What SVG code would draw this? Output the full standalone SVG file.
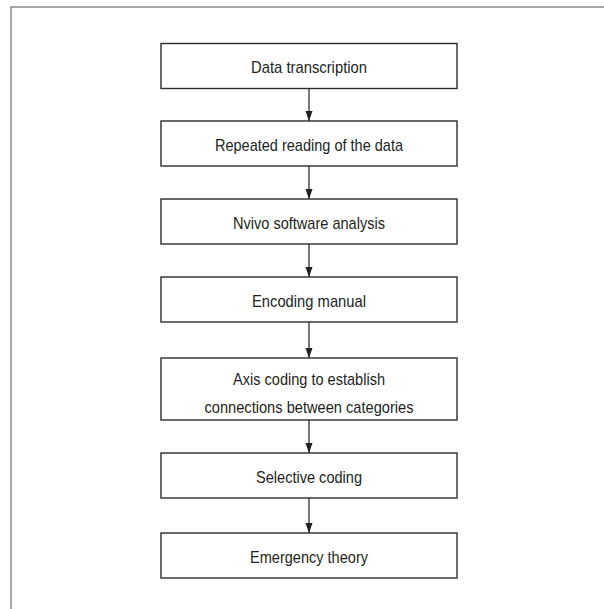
<svg xmlns="http://www.w3.org/2000/svg" width="604" height="609" viewBox="0 0 604 609">
<style>
.frame{fill:none;stroke:#8a8a8a;stroke-width:1.5}
.box{fill:#fff;stroke:#2b2b2b;stroke-width:1.4}
.lbl{font-family:"Liberation Sans",Arial,sans-serif;font-size:17px;fill:#231f20;text-anchor:middle}
.conn{stroke:#231f20;stroke-width:1.2;fill:none;marker-end:url(#ah)}
</style>
<defs>
<marker id="ah" markerUnits="userSpaceOnUse" markerWidth="8" markerHeight="11" refX="4" refY="10" orient="auto" viewBox="0 0 8 11">
<path d="M0.5,0 L7.5,0 L4,10 Z" fill="#231f20" transform="rotate(-90 4 5)"/>
</marker>
</defs>
<rect width="604" height="609" fill="#fff"/>
<path class="frame" d="M11,609 L11,7 L604,7"/>
<g id="connectors">
<path d="M309,88 V121 M309,166 V199 M309,244 V277 M309,322 V358 M309,420 V453 M309,498 V533" stroke="#231f20" stroke-width="1.2" fill="none"/>
<path d="M305.5,111 L312.5,111 L309,121 Z M305.5,189 L312.5,189 L309,199 Z M305.5,267 L312.5,267 L309,277 Z M305.5,348 L312.5,348 L309,358 Z M305.5,443 L312.5,443 L309,453 Z M305.5,523 L312.5,523 L309,533 Z" fill="#231f20"/>
</g>
<g id="n1"><rect class="box" x="161" y="43.5" width="296" height="45"/><text class="lbl" x="309" y="72.5" textLength="116" lengthAdjust="spacingAndGlyphs">Data transcription</text></g>
<g id="n2"><rect class="box" x="161" y="121" width="296" height="45"/><text class="lbl" x="309" y="150.5" textLength="188" lengthAdjust="spacingAndGlyphs">Repeated reading of the data</text></g>
<g id="n3"><rect class="box" x="161" y="199" width="296" height="45"/><text class="lbl" x="309" y="228.5" textLength="152" lengthAdjust="spacingAndGlyphs">Nvivo software analysis</text></g>
<g id="n4"><rect class="box" x="161" y="277" width="296" height="45"/><text class="lbl" x="309" y="306.5" textLength="114" lengthAdjust="spacingAndGlyphs">Encoding manual</text></g>
<g id="n5"><rect class="box" x="161" y="358" width="296" height="62"/><text class="lbl" x="309" y="385" textLength="152" lengthAdjust="spacingAndGlyphs">Axis coding to establish</text><text class="lbl" x="309" y="412.5" textLength="209" lengthAdjust="spacingAndGlyphs">connections between categories</text></g>
<g id="n6"><rect class="box" x="161" y="453" width="296" height="45"/><text class="lbl" x="309" y="482.5" textLength="106" lengthAdjust="spacingAndGlyphs">Selective coding</text></g>
<g id="n7"><rect class="box" x="161" y="533" width="296" height="45"/><text class="lbl" x="309" y="562.5" textLength="118" lengthAdjust="spacingAndGlyphs">Emergency theory</text></g>
</svg>
